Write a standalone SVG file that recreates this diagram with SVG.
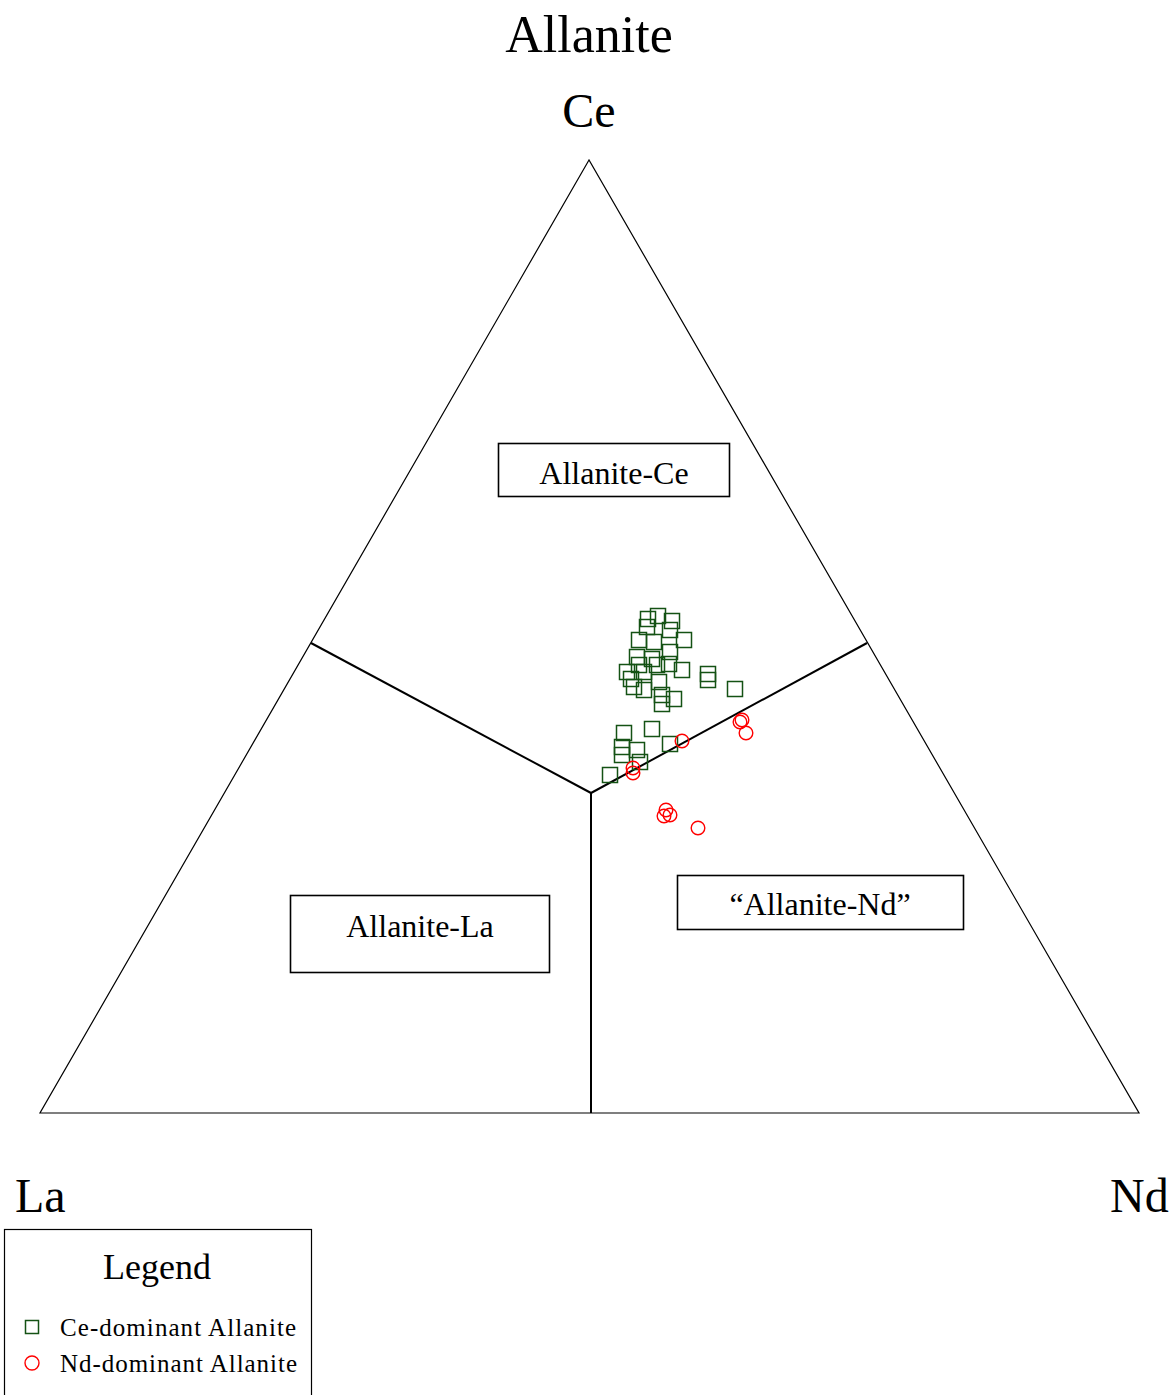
<svg xmlns="http://www.w3.org/2000/svg" width="1172" height="1395" viewBox="0 0 1172 1395">
<style>
text{font-family:"Liberation Serif","Times New Roman",serif;fill:#000}
.sq{fill:none;stroke:#145214;stroke-width:1.5}
.ci{fill:none;stroke:#f00;stroke-width:1.4}
.box{fill:#fff;stroke:#000;stroke-width:1.6}
.lab{font-size:32px;text-anchor:middle}
</style>
<defs>
<rect id="s" class="sq" x="-7.5" y="-7.5" width="15" height="15"/>
<circle id="c" class="ci" r="6.8"/>
</defs>
<rect width="1172" height="1395" fill="#fff"/>
<g id="titles">
<text x="589" y="52" font-size="52" text-anchor="middle">Allanite</text>
<text x="589" y="127" font-size="48" text-anchor="middle">Ce</text>
<text x="15" y="1212" font-size="48">La</text>
<text x="1110" y="1212" font-size="48">Nd</text>
</g>
<g id="triangle">
<polygon points="589,160 40,1113 1139,1113" fill="none" stroke="#000" stroke-width="1.2"/>
</g>
<g id="connectors" stroke="#000" stroke-width="2" fill="none">
<line x1="311" y1="643" x2="591" y2="793"/>
<line x1="867" y1="643" x2="591" y2="793"/>
<line x1="591" y1="793" x2="591" y2="1113"/>
</g>
<g id="field-ce">
<rect class="box" x="498.5" y="443.5" width="231" height="53"/>
<text class="lab" x="614" y="484">Allanite-Ce</text>
</g>
<g id="field-la">
<rect class="box" x="290.5" y="895.5" width="259" height="77"/>
<text class="lab" x="420" y="937">Allanite-La</text>
</g>
<g id="field-nd">
<rect class="box" x="677.5" y="875.5" width="286" height="54"/>
<text class="lab" x="820" y="915">“Allanite-Nd”</text>
</g>
<g id="ce-dominant">
<use href="#s" x="658" y="616"/><use href="#s" x="648" y="619"/><use href="#s" x="672" y="621"/>
<use href="#s" x="647" y="627"/><use href="#s" x="670" y="630"/><use href="#s" x="639" y="640"/>
<use href="#s" x="654" y="642"/><use href="#s" x="684" y="640"/><use href="#s" x="670" y="652"/>
<use href="#s" x="637" y="657"/><use href="#s" x="652" y="659"/><use href="#s" x="639" y="665"/>
<use href="#s" x="669" y="664"/><use href="#s" x="682" y="670"/><use href="#s" x="627" y="672"/>
<use href="#s" x="644" y="672"/><use href="#s" x="657" y="665"/><use href="#s" x="708" y="674"/>
<use href="#s" x="708" y="680"/><use href="#s" x="735" y="689"/><use href="#s" x="659" y="682"/>
<use href="#s" x="634" y="687"/><use href="#s" x="644" y="690"/><use href="#s" x="662" y="695"/>
<use href="#s" x="674" y="699"/><use href="#s" x="662" y="704"/><use href="#s" x="631" y="679"/>
<use href="#s" x="652" y="729"/><use href="#s" x="624" y="733"/><use href="#s" x="622" y="747"/>
<use href="#s" x="637" y="750"/><use href="#s" x="622" y="755"/><use href="#s" x="640" y="762"/>
<use href="#s" x="670" y="744"/><use href="#s" x="610" y="775"/>
</g>
<g id="nd-dominant">
<use href="#c" x="682" y="741"/><use href="#c" x="742" y="720"/><use href="#c" x="740" y="722"/>
<use href="#c" x="746" y="733"/><use href="#c" x="633" y="768"/><use href="#c" x="633" y="773"/>
<use href="#c" x="666" y="810"/><use href="#c" x="670" y="815"/><use href="#c" x="664" y="816"/>
<use href="#c" x="698" y="828"/>
</g>
<g id="legend">
<rect x="4.5" y="1229.5" width="307" height="175" fill="#fff" stroke="#000" stroke-width="1.2"/>
<text x="157" y="1279" font-size="36" text-anchor="middle">Legend</text>
<rect class="sq" x="25.5" y="1320.5" width="13" height="13"/>
<text x="60" y="1336" font-size="25" textLength="236" lengthAdjust="spacing">Ce-dominant Allanite</text>
<circle class="ci" cx="32" cy="1363" r="7"/>
<text x="60" y="1372" font-size="25" textLength="237" lengthAdjust="spacing">Nd-dominant Allanite</text>
</g>
</svg>
